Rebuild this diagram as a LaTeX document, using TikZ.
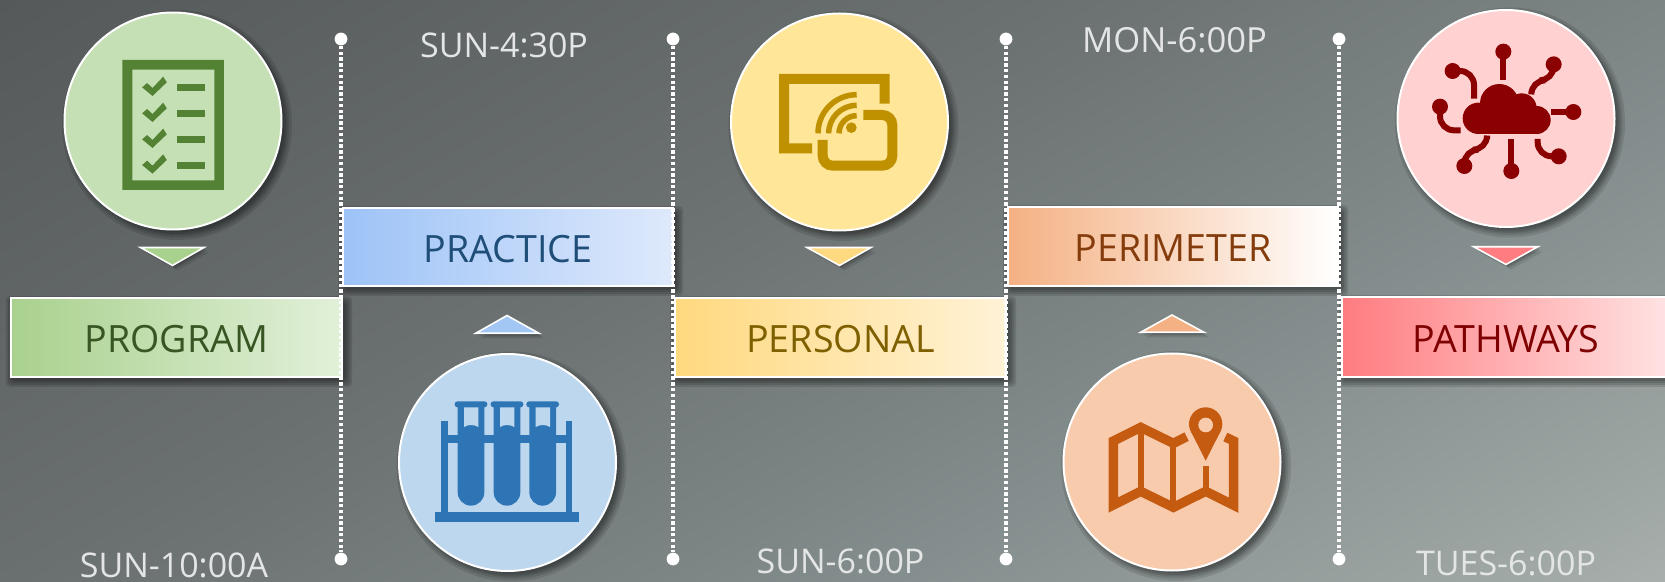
\documentclass[tikz,border=0pt]{standalone}
\usepackage{fontspec}
\setmainfont{Open Sans}
\usetikzlibrary{shapes.geometric}
\definecolor{bgA}{HTML}{55595A}
\definecolor{bgB}{HTML}{6A6F6F}
\definecolor{bgM}{HTML}{7C8584}
\definecolor{bgN}{HTML}{858E8E}
\definecolor{bgP}{HTML}{9AA3A0}
\definecolor{bgC}{HTML}{A8AFAC}
\pgfdeclarehorizontalshading{bgshade}{100bp}{
  color(0bp)=(bgA); color(25bp)=(bgA); color(44bp)=(bgB); color(56bp)=(bgM); color(60.5bp)=(bgN); color(70bp)=(bgP); color(75bp)=(bgC); color(100bp)=(bgC)}
\definecolor{gA}{HTML}{548235}\definecolor{gB}{HTML}{C5E0B4}\definecolor{gC}{HTML}{A9D18E}\definecolor{gD}{HTML}{E2F0D9}\definecolor{gT}{HTML}{375623}
\definecolor{bA}{HTML}{2E75B6}\definecolor{bB}{HTML}{BDD7EE}\definecolor{bC}{HTML}{9DC3F7}\definecolor{bD}{HTML}{DEE9FB}\definecolor{bT}{HTML}{1F4E79}
\definecolor{yA}{HTML}{BF9000}\definecolor{yB}{HTML}{FFE699}\definecolor{yC}{HTML}{FFD97F}\definecolor{yD}{HTML}{FFF2D6}\definecolor{yT}{HTML}{7F6000}
\definecolor{oA}{HTML}{C55A11}\definecolor{oB}{HTML}{F8CBAD}\definecolor{oC}{HTML}{F4B183}\definecolor{oD}{HTML}{FFFFFF}\definecolor{oT}{HTML}{843C0C}
\definecolor{rA}{HTML}{8B0000}\definecolor{rB}{HTML}{FFD1D1}\definecolor{rC}{HTML}{FF7C80}\definecolor{rD}{HTML}{FFE3E3}\definecolor{rT}{HTML}{7F0000}
\definecolor{timeC}{HTML}{E4E6E6}
\tikzset{
  x=0.5pt,y=-0.5pt,
  disc/.style={circle,draw=white,line width=1pt,minimum size=108.5pt,inner sep=0pt},
  band/.style={rectangle,draw=white,line width=1pt,inner sep=0pt,text height=15.4pt,text depth=0pt,font=\fontsize{18.8}{22}\selectfont},
  timelabel/.style={text=timeC,inner sep=0pt,font=\fontsize{17}{20}\selectfont},
  pin/.style={circle,fill=white,minimum size=6.4pt,inner sep=0pt},
  dotline/.style={white,line width=1.7pt,dash pattern=on 1.7pt off 1.2pt},
  tri/.style={draw=white,line width=.8pt,line join=miter}
}
\newcommand{\discshadow}[2]{%
  \foreach \e in {6,3.5,1.5,0,-2}{\fill[black,opacity=.11] ({#1+4},{#2+4}) circle ({109+\e});}}
\newcommand{\boxshadow}[4]{%
  \foreach \e in {6,4,2,0}{\fill[black,opacity=.12,rounded corners=2pt] ({#1+1-\e},{#2+4-\e}) rectangle ({#3+4+\e},{#4+4+\e});}}
\newcommand{\trishadow}[6]{%
  \foreach \e/\o in {5/.10,3/.14,1.5/.16}{\fill[black,opacity=\o] ({#1+\e},{#2+\e}) -- ({#3+\e},{#4+\e}) -- ({#5+\e},{#6+\e}) -- cycle;}}
\begin{document}
\begin{tikzpicture}
\useasboundingbox (0,0) rectangle (1665,582);
\begin{scope}
  \clip (0,0) rectangle (1665,582);
  \begin{scope}[transform canvas={rotate around={-60:(832.5,291)}}]
    \shade[shading=bgshade] (164.5,-1300) rectangle (1500.5,1882);
  \end{scope}
\end{scope}
% shadows
\discshadow{173}{121}\discshadow{507.5}{462.5}\discshadow{839.5}{122}\discshadow{1172}{462}\discshadow{1506}{118.5}
\boxshadow{11}{298}{342}{377}\boxshadow{343}{208}{673}{286}\boxshadow{675}{298}{1006}{377}\boxshadow{1008}{207}{1338}{286}\boxshadow{1342}{297}{1670}{377}
\trishadow{140.5}{247.5}{204}{247.5}{172.5}{265.5}
\trishadow{475.7}{333.3}{539}{333.3}{507}{315.5}
\trishadow{807}{247.5}{871}{247.5}{839.5}{265.5}
\trishadow{1140.7}{332.3}{1204}{332.3}{1172}{315}
\trishadow{1473.7}{246.8}{1537.7}{246.8}{1506}{264.5}
% discs
\node[disc,fill=gB] (c1) at (173,121) {};
\node[disc,fill=bB] (c2) at (507.5,462.5) {};
\node[disc,fill=yB] (c3) at (839.5,122) {};
\node[disc,fill=oB] (c4) at (1172,462) {};
\node[disc,fill=rB] (c5) at (1506,118.5) {};
% bands
\node[band,left color=gC,right color=gD,text=gT,minimum width=165.5pt,minimum height=39.5pt] (b1) at (176.5,337.5) {PROGRAM};
\node[band,left color=bC,right color=bD,text=bT,minimum width=165pt,minimum height=39pt] (b2) at (508,247) {PRACTICE};
\node[band,left color=yC,right color=yD,text=yT,minimum width=165.5pt,minimum height=39.5pt] (b3) at (840.5,337.5) {PERSONAL};
\node[band,left color=oC,right color=oD,text=oT,minimum width=165pt,minimum height=39.5pt] (b4) at (1173,246.5) {PERIMETER};
\node[band,left color=rC,right color=rD,text=rT,minimum width=164pt,minimum height=40pt] (b5) at (1506,337) {PATHWAYS};
% triangles
\draw[tri,fill=gC] (140.5,247.5) -- (204,247.5) -- (172.5,265.5) -- cycle;
\draw[tri,fill=bC!80!bB] (475.7,333.3) -- (539,333.3) -- (507,315.5) -- cycle;
\draw[tri,fill=yC] (807,247.5) -- (871,247.5) -- (839.5,265.5) -- cycle;
\draw[tri,fill=oC] (1140.7,332.3) -- (1204,332.3) -- (1172,315) -- cycle;
\draw[tri,fill=rC] (1473.7,246.8) -- (1537.7,246.8) -- (1506,264.5) -- cycle;
% dotted lines
\foreach \n/\xx in {1/341,2/673,3/1006,4/1339}{
  \node[pin] (t\n) at (\xx,39) {};
  \node[pin] (u\n) at (\xx,559) {};
  \draw[dotline] (t\n) -- (u\n);
}
% times
\node[timelabel] (tA) at (174,565) {SUN-10:00A};
\node[timelabel] (tB) at (504,45) {SUN-4:30P};
\node[timelabel] (tC) at (840.5,561) {SUN-6:00P};
\node[timelabel,font=\fontsize{17.3}{20}\selectfont] (tD) at (1174.5,40.5) {MON-6:00P};
\node[timelabel] (tE) at (1506,563) {TUES-6:00P};
% icon 1: checklist
\begin{scope}[xscale=1/2.8,yscale=1/3]
  \fill[gA,even odd rule] (343,180) rectangle (627,570) (371,209) rectangle (600,541);
  \foreach \d in {0,78,156,233}{
    \begin{scope}[shift={(0,\d)}]
    \fill[gA] (398,262) -- (412,249) -- (427,264) -- (457,230) -- (467,247) -- (427,288) -- cycle;
    \fill[gA] (495,253) rectangle (573,273);
    \end{scope}
  }
\end{scope}
% icon 2: test tubes
\begin{scope}[shift={(340,290)},scale=1/3]
  \fill[bA] (285,665) rectangle (717,695);
  \fill[bA] (304,392) rectangle (324,670);
  \fill[bA] (678,392) rectangle (697,670);
  \fill[bA] (320,436) rectangle (680,458);
  \foreach \c in {393,501,608}{
    \fill[bA,rounded corners=1.4pt] ({\c-49},334) rectangle ({\c+49},352);
    \fill[bA] ({\c-40},345) -- ({\c-40},607) arc (180:0:40) -- ({\c+40},345) -- cycle;
    \fill[bB] ({\c-21},352) -- ({\c-21},411) .. controls ({\c-8},403) and ({\c+8},403) .. ({\c+22},411) -- ({\c+22},352) -- cycle;
  }
\end{scope}
% icon 3: cast
\begin{scope}[shift={(660,0)},scale=1/3]
  \fill[yA] (456,460) -- (357,460) -- (357,222) -- (689,222) -- (689,311) -- (659,311) -- (659,252) -- (387,252) -- (387,430) -- (456,430) -- cycle;
  \draw[yA,line width=5pt,rounded corners=5pt] (610,345) -- (697,345) -- (697,497) -- (488,497) -- (488,420);
  \fill[yA] (574,383) circle (16);
  \foreach \r in {116,84,53}{
    \draw[yA,line width=2.75pt] (590,400) ++(180:\r) arc (180:270:\r);
  }
\end{scope}
% icon 4: map
\begin{scope}[shift={(1000,290)},scale=1/3]
  \draw[oA,line width=4.7pt,line join=miter] (560,440) -- (520,460) -- (422,412) -- (340,453) -- (340,645) -- (422,604) -- (520,652) -- (617,604) -- (701,646) -- (701,453) -- (676,441);
  \draw[oA,line width=3.1pt] (422,412) -- (422,604);
  \draw[oA,line width=3.1pt] (520,460) -- (520,652);
  \draw[oA,line width=3.1pt] (617,528) -- (617,604);
  \fill[oA] (573,425) -- (617,512) -- (661,425) -- cycle;
  \fill[oA] (617,402) circle (50);
  \fill[oB] (617,405) circle (22);
\end{scope}
% icon 5: cloud
\begin{scope}[shift={(1340,0)},scale=1/3]
  \fill[rA] (415,355) circle (47);
  \fill[rA] (478,310) circle (58);
  \fill[rA] (545,325) circle (45);
  \fill[rA] (590,360) circle (42);
  \fill[rA] (415,320) rectangle (590,402);
  \foreach \a/\b in {490/155,641/193,700/336,656/469,514/513,373/498,300/320,338/213}{\fill[rA] (\a,\b) circle (24);}
  \draw[rA,line width=3pt] (490,155) -- (490,240);
  \draw[rA,line width=3pt] (700,336) -- (632,336);
  \draw[rA,line width=3pt] (514,513) -- (514,417);
  \draw[rA,line width=3pt,rounded corners=7pt] (641,193) -- (641,241) -- (574,241) -- (574,275);
  \draw[rA,line width=3pt,rounded corners=7pt] (593,417) -- (593,469) -- (656,469);
  \draw[rA,line width=3pt,rounded corners=7pt] (441,417) -- (441,449) -- (373,449) -- (373,498);
  \draw[rA,line width=3pt,rounded corners=7pt] (300,320) -- (300,391) -- (362,391);
  \draw[rA,line width=3pt,rounded corners=7pt] (338,213) -- (402,213) -- (402,296);
\end{scope}
\end{tikzpicture}
\end{document}
